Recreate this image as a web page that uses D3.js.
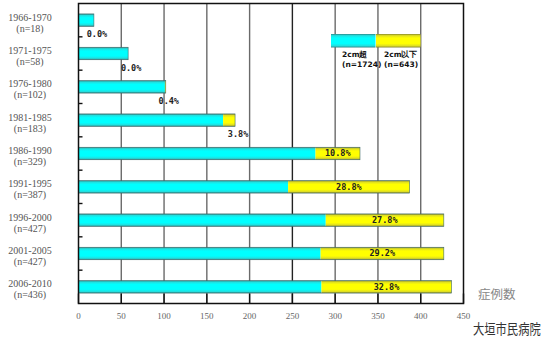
<!DOCTYPE html>
<html>
<head>
<meta charset="utf-8">
<script src="https://cdn.jsdelivr.net/npm/d3@7"></script>
<style>
  html, body { margin: 0; padding: 0; background: #fff; }
  svg { display: block; }
</style>
</head>
<body>
<svg id="chart" width="546" height="344"></svg>
<script>
// Periods of diagnosis and their case counts by tumour size
const periods = ["1966-1970", "1971-1975", "1976-1980", "1981-1985", "1986-1990",
                 "1991-1995", "1996-2000", "2001-2005", "2006-2010"];
const periodN = ["(n=18)", "(n=58)", "(n=102)", "(n=183)", "(n=329)",
                 "(n=387)", "(n=427)", "(n=427)", "(n=436)"];
const over2cm = [18, 58, 101, 169, 277, 245, 289, 283, 284];   // 2cm超
const under2cm = [0, 0, 1, 14, 52, 142, 138, 144, 152];        // 2cm以下
const pctLabels = ["0.0%", "0.0%", "0.4%", "3.8%", "10.8%", "28.8%", "27.8%", "29.2%", "32.8%"];
const xTicks = [0, 50, 100, 150, 200, 250, 300, 350, 400, 450];
const legendItems = [
  { name: "2cm超", n: "(n=1724)" },
  { name: "2cm以下", n: "(n=643)" }
];

const rows = periods.map((p, i) => ({
  period: p, nLabel: periodN[i], big: over2cm[i], small: under2cm[i], pct: pctLabels[i]
}));

const svg = d3.select("#chart");
const plotL = 78.5, plotR = 463.5, plotT = 3.5, plotB = 303.5;

const x = d3.scaleLinear().domain([0, 450]).range([plotL, plotR]);
const y = d3.scaleBand().domain(periods).range([plotT, plotB])
  .paddingInner(0.625).paddingOuter(0.3125);
const step = y.step();

// Bar fills with a bevelled look
const defs = svg.append("defs");
function bevel(id, edge, mid, core) {
  const g = defs.append("linearGradient").attr("id", id)
    .attr("x1", 0).attr("y1", 0).attr("x2", 0).attr("y2", 1);
  [[0, edge], [0.12, mid], [0.3, core], [0.7, core], [0.88, mid], [1, edge]]
    .forEach(([o, c]) => g.append("stop").attr("offset", o).attr("stop-color", c));
}
bevel("cyanFill", "#2b8686", "#22dede", "#00ffff");
bevel("yellowFill", "#86862b", "#dede22", "#ffff00");

// Vertical grid lines
svg.append("g").selectAll("line")
  .data(xTicks.filter(t => t > 0 && t < 450))
  .join("line")
  .attr("x1", d => x(d)).attr("x2", d => x(d))
  .attr("y1", plotT).attr("y2", plotB)
  .attr("stroke", d => d === 250 ? "#222" : "#6a6a6a")
  .attr("stroke-width", 1.4);

// Bottom tick marks
svg.append("g").selectAll("line")
  .data(xTicks)
  .join("line")
  .attr("x1", d => x(d)).attr("x2", d => x(d))
  .attr("y1", plotB - 10).attr("y2", plotB)
  .attr("stroke", "#111").attr("stroke-width", 1.4);

// Left ticks at row boundaries
svg.append("g").selectAll("line")
  .data(periods.slice(1))
  .join("line")
  .attr("x1", plotL).attr("x2", plotL + 4)
  .attr("y1", d => y(d) - (step - y.bandwidth()) / 2)
  .attr("y2", d => y(d) - (step - y.bandwidth()) / 2)
  .attr("stroke", "#111").attr("stroke-width", 1.4);

// Bars
const bars = svg.append("g").selectAll("g").data(rows).join("g");
bars.append("rect")
  .attr("x", x(0)).attr("y", d => y(d.period))
  .attr("width", d => x(d.big) - x(0)).attr("height", y.bandwidth())
  .attr("fill", "url(#cyanFill)");
bars.filter(d => d.small > 0).append("rect")
  .attr("x", d => x(d.big)).attr("y", d => y(d.period))
  .attr("width", d => x(d.big + d.small) - x(d.big)).attr("height", y.bandwidth())
  .attr("fill", "url(#yellowFill)");
bars.append("rect")
  .attr("x", x(0)).attr("y", d => y(d.period))
  .attr("width", d => x(d.big + d.small) - x(0)).attr("height", y.bandwidth())
  .attr("fill", "none").attr("stroke", "#3d6a6a").attr("stroke-width", 0.6);

// Percentage labels: inside the yellow part when it is wide, below the bar end otherwise
const labelFont = "'DejaVu Sans Mono', monospace";
bars.append("text")
  .attr("x", d => d.small > 30 ? x(d.big + d.small / 2) : x(d.big + d.small) + 3)
  .attr("y", d => d.small > 30 ? y(d.period) + y.bandwidth() / 2 : y(d.period) + y.bandwidth() + 8)
  .attr("dy", "0.35em")
  .attr("text-anchor", "middle")
  .attr("font-family", labelFont).attr("font-size", 8.5).attr("font-weight", "bold")
  .attr("fill", "#222")
  .text(d => d.pct);

// Frame
svg.append("rect")
  .attr("x", plotL).attr("y", plotT)
  .attr("width", plotR - plotL).attr("height", plotB - plotT)
  .attr("fill", "none").attr("stroke", "#111").attr("stroke-width", 1.5);

// Category labels
const cat = svg.append("g").selectAll("g").data(rows).join("g")
  .attr("font-family", "'Liberation Serif', serif").attr("font-size", 10)
  .attr("fill", "#555").attr("text-anchor", "middle");
cat.append("text").attr("x", 30).attr("y", d => y(d.period) + y.bandwidth() / 2 - 3)
  .attr("dy", "0.35em").text(d => d.period);
cat.append("text").attr("x", 30).attr("y", d => y(d.period) + y.bandwidth() / 2 + 8)
  .attr("dy", "0.35em").text(d => d.nLabel);

// Axis tick labels
svg.append("g").selectAll("text").data(xTicks).join("text")
  .attr("x", d => x(d)).attr("y", 316).attr("dy", "0.35em")
  .attr("text-anchor", "middle")
  .attr("font-family", "'Liberation Serif', serif").attr("font-size", 9)
  .attr("fill", "#666")
  .text(d => d);

// Axis title
svg.append("text").attr("x", 478).attr("y", 295).attr("dy", "0.35em")
  .attr("font-family", "'Noto Sans CJK JP', sans-serif").attr("font-size", 12.5)
  .attr("fill", "#888").text("症例数");

// Source, drawn narrow and tall
svg.append("text")
  .attr("transform", "translate(473,329) scale(1,1.25)")
  .attr("dy", "0.35em")
  .attr("font-family", "'Noto Sans CJK JP', sans-serif").attr("font-size", 11.3)
  .attr("fill", "#333").text("大垣市民病院");

// Legend
const lgX = [331, 376], lgW = 44.5, lgY = 34, lgH = 13.5;
const fills = ["url(#cyanFill)", "url(#yellowFill)"];
const lg = svg.append("g").selectAll("g").data(legendItems).join("g");
lg.append("rect")
  .attr("x", (d, i) => lgX[i]).attr("y", lgY)
  .attr("width", lgW).attr("height", lgH)
  .attr("fill", (d, i) => fills[i]);
lg.append("text")
  .attr("x", (d, i) => lgX[i] + (i === 0 ? 11 : 8)).attr("y", 54.5).attr("dy", "0.35em")
  .attr("font-family", "'DejaVu Sans', sans-serif").attr("font-size", 7.5).attr("font-weight", "bold")
  .attr("fill", "#111").text(d => d.name);
lg.append("text")
  .attr("x", (d, i) => lgX[i] + (i === 0 ? 11 : 8)).attr("y", 64).attr("dy", "0.35em")
  .attr("font-family", "'DejaVu Sans', sans-serif").attr("font-size", 7.5).attr("font-weight", "bold")
  .attr("fill", "#111").text(d => d.n);
</script>
</body>
</html>
